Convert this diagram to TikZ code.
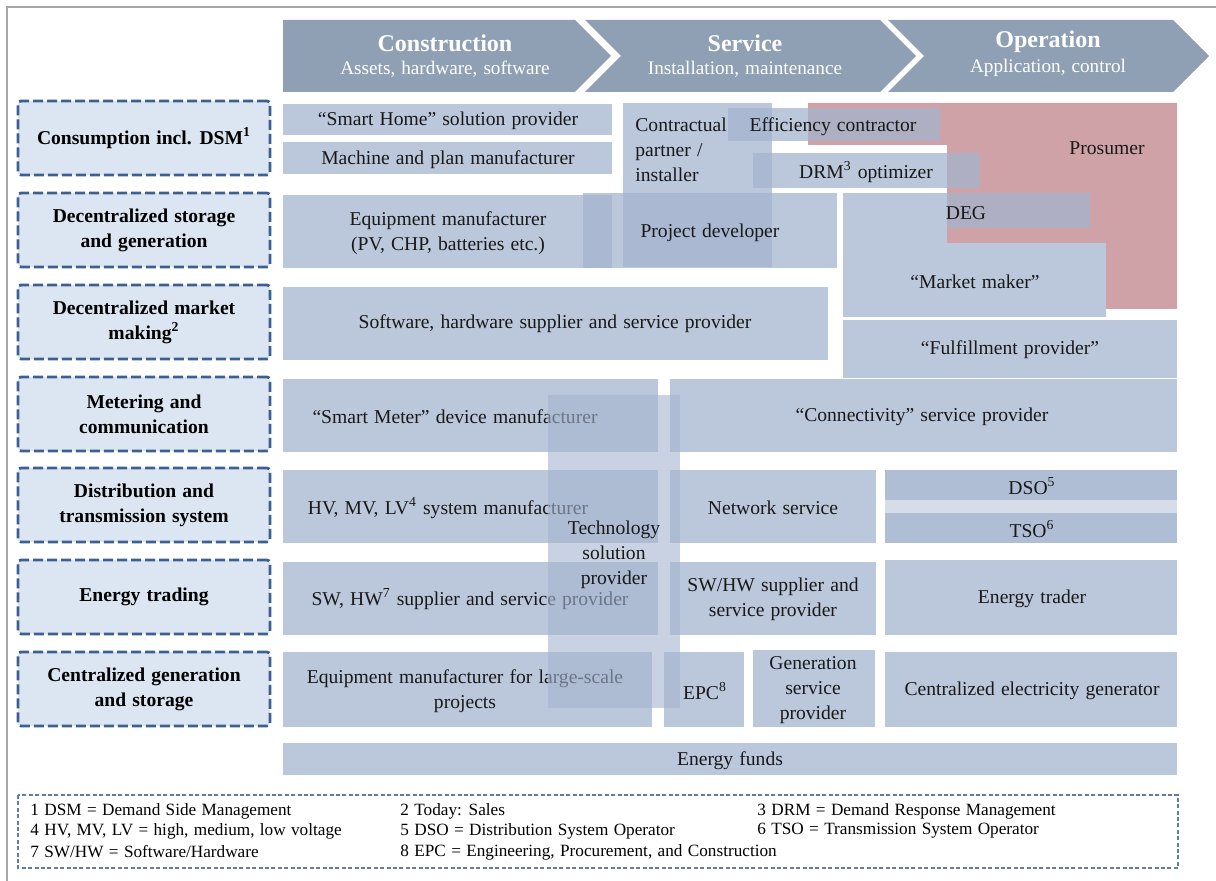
\documentclass[tikz,border=0pt]{standalone}
\usepackage{fontspec}
\setmainfont{Liberation Serif}[WordSpace=1.25]

\definecolor{hdrgray}{RGB}{143,160,180}
\definecolor{rowfill}{RGB}{220,230,242}
\definecolor{rowline}{RGB}{61,96,145}
\definecolor{cellblue}{RGB}{164,180,206}
\definecolor{prosred}{RGB}{206,162,166}
\definecolor{footline}{RGB}{95,125,165}

\tikzset{
  phase/.style={fill=hdrgray},
  phasetitle/.style={text=white, font=\fontsize{12}{13}\selectfont\bfseries},
  phasesub/.style={text=white, font=\fontsize{9.6}{11}\selectfont},
  rowlabel/.style={draw=rowline, fill=rowfill, line width=1.4pt, dash pattern=on 5pt off 2pt,
    rounded corners=1.5pt, minimum width=126pt, minimum height=37pt, align=center,
    font=\fontsize{9.8}{12.5}\selectfont\bfseries},
  cell/.style={fill=cellblue, fill opacity=0.75},
  backcell/.style={fill=cellblue, fill opacity=0.45},
  techcell/.style={fill=cellblue, fill opacity=0.6},
  celltext/.style={align=center, inner sep=0pt, yshift=-1pt, text=black!90, font=\fontsize{9.8}{12.5}\selectfont},
  foot/.style={anchor=west, inner sep=0pt, font=\fontsize{8.6}{10}\selectfont}
}

\begin{document}
\begin{tikzpicture}[x=0.5pt, y=-0.5pt]
        \useasboundingbox (0,0) rectangle (1216,881);

        % Frame
        \draw[gray!70, line width=0.75pt] (7,881) -- (7,7) -- (1216,7);

        % Value chain header
        \fill[phase] (283,20) -- (575,20) -- (611,56) -- (575,92) -- (283,92) -- cycle;
        \fill[phase] (585,20) -- (880,20) -- (916,56) -- (880,92) -- (585,92) -- (621,56) -- cycle;
        \fill[phase] (888,20) -- (1173,20) -- (1209,56) -- (1173,92) -- (888,92) -- (924,56) -- cycle;
        \node[phasetitle] (constr) at (445,43) {Construction};
        \node[phasesub] (constrsub) at (445,69) {Assets, hardware, software};
        \node[phasetitle] (serv) at (745,43) {Service};
        \node[phasesub] (servsub) at (745,69) {Installation, maintenance};
        \node[phasetitle] (oper) at (1048,42) {Operation};
        \node[phasesub] (opersub) at (1048,68) {Application, control};

        % Value chain steps
        \node[rowlabel] (consumption) at (144,138) {Consumption incl. DSM\textsuperscript{1}};
        \node[rowlabel] (decstorage) at (144,230) {Decentralized storage\\and generation};
        \node[rowlabel] (decmarket) at (144,322) {Decentralized market\\making\textsuperscript{2}};
        \node[rowlabel] (metering) at (144,414) {Metering and\\communication};
        \node[rowlabel] (distribution) at (144,505) {Distribution and\\transmission system};
        \node[rowlabel] (trading) at (144,597) {Energy trading};
        \node[rowlabel] (centralgen) at (144,689) {Centralized generation\\and storage};

        % Prosumer area
        \fill[prosred] (808,103) -- (1177,103) -- (1177,309) -- (1106,309) -- (1106,243)
          -- (947,243) -- (947,145) -- (808,145) -- cycle;
        \node[celltext] (prosumer) at (1107,146) {Prosumer};

        % Boxes behind
        \fill[cell] (623,103) rectangle (772,267);
        \fill[cell] (843,228) rectangle (947,243);
        \fill[backcell] (885,470) rectangle (1177,543);

        % Consumption
        \fill[cell] (283,104) rectangle (612,135);
        \node[celltext] (smarthome) at (448,119) {“Smart Home” solution provider};
        \fill[cell] (283,142) rectangle (612,174);
        \node[celltext] (machine) at (448,158) {Machine and plan manufacturer};
        \node[celltext, anchor=west, align=left] (contractual) at (635,148) {Contractual\\partner /\\installer};
        \fill[cell] (728,108) rectangle (940,141);
        \node[celltext] (efficiency) at (833,125) {Efficiency contractor};
        \fill[cell] (753,153) rectangle (980,188);
        \node[celltext] (drm) at (866,170) {DRM\textsuperscript{3} optimizer};

        % Decentralized storage and generation
        \fill[cell] (283,195) rectangle (612,268);
        \node[celltext] (equipment) at (448,231) {Equipment manufacturer\\(PV, CHP, batteries etc.)};
        \fill[cell] (583,193) rectangle (837,268);
        \node[celltext] (projdev) at (710,231) {Project developer};
        \fill[cell] (843,193) rectangle (1090,228);
        \node[celltext] (deg) at (966,211) {DEG};
        \fill[cell] (843,243) rectangle (1106,317);
        \node[celltext] (marketmaker) at (975,280) {“Market maker”};

        % Decentralized market making
        \fill[cell] (283,287) rectangle (828,360);
        \node[celltext] (software) at (555,322) {Software, hardware supplier and service provider};
        \fill[cell] (843,320) rectangle (1177,378);
        \node[celltext] (fulfillment) at (1010,348) {“Fulfillment provider”};

        % Metering and communication
        \fill[cell] (283,379) rectangle (658,452);
        \node[celltext] (smartmeter) at (455,415) {“Smart Meter” device manufacturer};
        \fill[cell] (670,379) rectangle (1177,452);
        \node[celltext] (connectivity) at (922,415) {“Connectivity” service provider};

        % Distribution and transmission
        \fill[cell] (283,470) rectangle (658,543);
        \node[celltext] (hvmvlv) at (448,506) {HV, MV, LV\textsuperscript{4} system manufacturer};
        \fill[cell] (670,470) rectangle (876,543);
        \node[celltext] (network) at (773,506) {Network service};
        \fill[cell] (885,470) rectangle (1177,500);
        \node[celltext] (dso) at (1032,484) {DSO\textsuperscript{5}};
        \fill[cell] (885,513) rectangle (1177,543);
        \node[celltext] (tso) at (1032,527) {TSO\textsuperscript{6}};

        % Energy trading
        \fill[cell] (283,562) rectangle (658,635);
        \node[celltext] (swhw) at (470,597) {SW, HW\textsuperscript{7} supplier and service provider};
        \fill[cell] (670,562) rectangle (876,635);
        \node[celltext] (swhwsupp) at (773,597) {SW/HW supplier and\\service provider};
        \fill[cell] (885,560) rectangle (1177,635);
        \node[celltext] (trader) at (1032,597) {Energy trader};

        % Centralized generation and storage
        \fill[cell] (283,652) rectangle (652,727);
        \node[celltext] (largescale) at (465,689) {Equipment manufacturer for large-scale\\projects};
        \fill[cell] (664,652) rectangle (744,727);
        \node[celltext] (epc) at (705,689) {EPC\textsuperscript{8}};
        \fill[cell] (753,650) rectangle (875,727);
        \node[celltext] (genservice) at (813,688) {Generation\\service\\provider};
        \fill[cell] (885,652) rectangle (1177,727);
        \node[celltext] (central) at (1032,689) {Centralized electricity generator};

        % Funds
        \fill[cell] (283,743) rectangle (1177,775);
        \node[celltext] (funds) at (730,759) {Energy funds};

        % Technology column on top
        \fill[techcell] (548,395) rectangle (680,708);
        \node[celltext] (techsol) at (614,553) {Technology\\solution\\provider};

        % Footnotes
        \draw[footline, line width=0.6pt, dash pattern=on 2pt off 1.2pt] (18,795) rectangle (1178,868);
        \node[foot] (fn1) at (30,811) {1 DSM = Demand Side Management};
        \node[foot] (fn2) at (400,811) {2 Today: Sales};
        \node[foot] (fn3) at (757,811) {3 DRM = Demand Response Management};
        \node[foot] (fn4) at (30,831) {4 HV, MV, LV = high, medium, low voltage};
        \node[foot] (fn5) at (400,831) {5 DSO = Distribution System Operator};
        \node[foot] (fn6) at (757,831) {6 TSO = Transmission System Operator};
        \node[foot] (fn7) at (30,852) {7 SW/HW = Software/Hardware};
        \node[foot] (fn8) at (400,852) {8 EPC = Engineering, Procurement, and Construction};
\end{tikzpicture}
\end{document}
